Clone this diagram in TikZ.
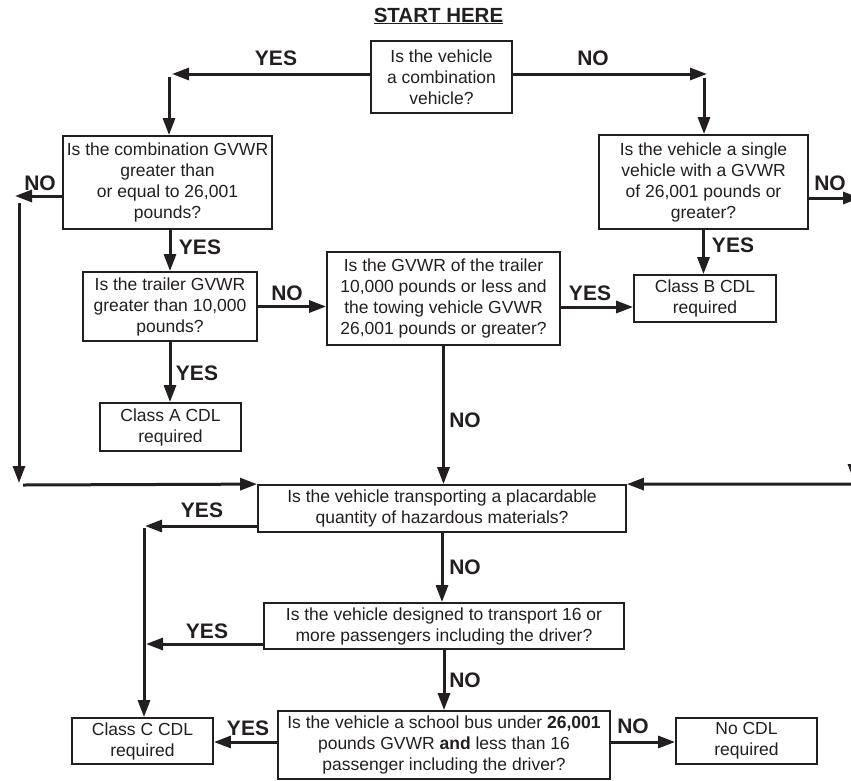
\documentclass[tikz,border=0pt]{standalone}
\usepackage{fontspec}
\setmainfont{Liberation Sans}
\usetikzlibrary{arrows.meta}
\definecolor{ink}{RGB}{35,31,32}
\begin{document}
\begin{tikzpicture}[x=1pt,y=-1pt,
  box/.style={draw=ink, line width=1.8pt, fill=white, text=ink, align=center, inner sep=0pt,
              font=\fontsize{17.5}{21}\selectfont},
  arr/.style={draw=ink, line width=3pt, -{Triangle[length=17pt,width=12pt]}},
  lbl/.style={text=ink, inner sep=0pt, font=\fontsize{21}{24}\selectfont\bfseries}]
\useasboundingbox (0,0) rectangle (851,780);
\clip (0,0) rectangle (851,780);

% title
\node[text=ink, inner sep=0pt, anchor=base, font=\fontsize{20.5}{24}\selectfont\bfseries] (title) at (438.5,22) {\underline{START HERE}};

% boxes
\node[box, minimum width=141pt, minimum height=72pt] (start) at (441.5,77) {Is the vehicle\\a combination\\vehicle?};
\node[box, minimum width=209pt, minimum height=93pt] (comb) at (167.5,182.5) {Is the combination GVWR\\greater than\\or equal to 26,001\\pounds?};
\node[box, minimum width=209pt, minimum height=94pt] (single) at (703.5,182) {Is the vehicle a single\\vehicle with a GVWR\\of 26,001 pounds or\\greater?};
\node[box, minimum width=174pt, minimum height=69pt] (trailer) at (170,306.5) {Is the trailer GVWR\\greater than 10,000\\pounds?};
\node[box, minimum width=233pt, minimum height=93pt] (gvwr) at (443.5,298.5) {Is the GVWR of the trailer\\10,000 pounds or less and\\the towing vehicle GVWR\\26,001 pounds or greater?};
\node[box, minimum width=142pt, minimum height=47pt] (classB) at (705,298.5) {Class B CDL\\required};
\node[box, minimum width=141pt, minimum height=48pt] (classA) at (170.5,427) {Class A CDL\\required};
\node[box, minimum width=368pt, minimum height=47pt] (hazmat) at (442,508.5) {Is the vehicle transporting a placardable\\quantity of hazardous materials?};
\node[box, minimum width=360pt, minimum height=46pt] (pass) at (444,626) {Is the vehicle designed to transport 16 or\\more passengers including the driver?};
\node[box, minimum width=332pt, minimum height=68pt] (school) at (444,745) {Is the vehicle a school bus under \textbf{26,001}\\pounds GVWR \textbf{and} less than 16\\passenger including the driver?};
\node[box, minimum width=141pt, minimum height=46pt] (classC) at (142.5,741) {Class C CDL\\required};
\node[box, minimum width=141pt, minimum height=46pt] (nocdl) at (746.5,741) {No CDL\\required};

% corner coordinates
\coordinate (cL) at (172,74);
\coordinate (cLv) at (169,77);
\coordinate (cR) at (707,74);
\coordinate (cRv) at (704,78);
\coordinate (cNL) at (15,196);
\coordinate (cNLv) at (19,203);
\coordinate (cNLb) at (19,483);
\coordinate (cNLh) at (23,485);
\coordinate (cNR) at (860,198);
\coordinate (cNRv) at (854,203);
\coordinate (cNRb) at (854,481);
\coordinate (cNRh) at (860,484);
\coordinate (cYH) at (145,526);
\coordinate (cYHv) at (144,528);
\coordinate (cYP) at (146,644);
\coordinate (g1) at ([yshift=-8.5pt]gvwr.east);
\coordinate (s1) at ([yshift=3pt]school.west);
\coordinate (s2) at ([yshift=3pt]school.east);

% connectors
\draw[arr] (start.west |- cL) -- (cL);
\draw[arr] (cLv) -- (cLv |- comb.north);
\draw[arr] (start.east |- cR) -- (cR);
\draw[arr] (cRv) -- (cRv |- single.north);
\draw[arr] (comb.west |- cNL) -- (cNL);
\draw[arr] (cNLv) -- (cNLb);
\draw[arr] (cNLh) -- (hazmat.north west);
\draw[arr] (single.east |- cNR) -- (cNR);
\draw[arr] (cNRv) -- (cNRb);
\draw[arr] (cNRh) -- (hazmat.north east);
\draw[arr] (trailer.north |- comb.south) -- (trailer.north);
\draw[arr] (trailer.south) -- (trailer.south |- classA.north);
\draw[arr] (trailer.east) -- (trailer.east -| gvwr.west);
\draw[arr] (g1) -- (g1 -| classB.west);
\draw[arr] (single.south) -- (single.south |- classB.north);
\draw[arr] (gvwr.south) -- (gvwr.south |- hazmat.north);
\draw[arr] (hazmat.west |- cYH) -- (cYH);
\draw[arr] (cYHv) -- (cYHv |- classC.north);
\draw[arr] (hazmat.south) -- (hazmat.south |- pass.north);
\draw[arr] (pass.west |- cYP) -- (cYP);
\draw[arr] (pass.south) -- (pass.south |- school.north);
\draw[arr] (s1) -- (s1 -| classC.east);
\draw[arr] (s2) -- (s2 -| nocdl.west);

% labels
\node[lbl] (l1) at (276,58) {YES};
\node[lbl] (l2) at (593,58) {NO};
\node[lbl] (l3) at (40,183) {NO};
\node[lbl] (l4) at (830,183) {NO};
\node[lbl] (l5) at (200,247) {YES};
\node[lbl] (l6) at (733,245) {YES};
\node[lbl] (l7) at (287,293) {NO};
\node[lbl] (l8) at (590,293) {YES};
\node[lbl] (l9) at (197,373) {YES};
\node[lbl] (l10) at (465,420) {NO};
\node[lbl] (l11) at (202,510) {YES};
\node[lbl] (l12) at (465,567) {NO};
\node[lbl] (l13) at (207,631) {YES};
\node[lbl] (l14) at (465,680) {NO};
\node[lbl] (l15) at (248,728) {YES};
\node[lbl] (l16) at (633,726) {NO};
\end{tikzpicture}
\end{document}
